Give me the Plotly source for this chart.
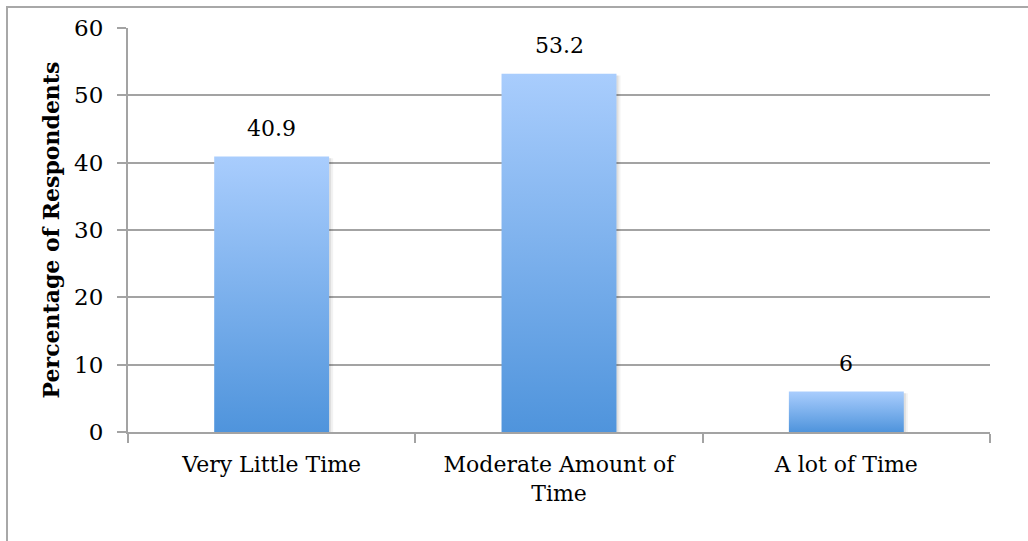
import plotly.graph_objects as go

# Survey results: share of respondents by amount of time
categories = ["Very Little Time", "Moderate Amount of<br>Time", "A lot of Time"]
percentages = [40.9, 53.2, 6]
value_labels = ["40.9", "53.2", "6"]
y_ticks = [0, 10, 20, 30, 40, 50, 60]

GRID = "#a3a3a3"
FONT = "DejaVu Serif"
BAR_HALF = 0.2           # half bar width in category units
BAR_TOP = "#a9cdfd"
BAR_BOTTOM = "#4f94dc"

fig = go.Figure()

# soft drop shadow behind each bar
for i, v in enumerate(percentages):
    for off, alpha in [(0.014, 0.05), (0.007, 0.08)]:
        fig.add_trace(go.Scatter(
            x=[i - BAR_HALF + off, i + BAR_HALF + off, i + BAR_HALF + off, i - BAR_HALF + off, i - BAR_HALF + off],
            y=[0, 0, v - 0.25, v - 0.25, 0],
            mode="lines", fill="toself", line=dict(width=0),
            fillcolor=f"rgba(0,0,0,{alpha})", hoverinfo="skip", showlegend=False,
        ))

# bars with a vertical light-to-dark gradient
for i, v in enumerate(percentages):
    fig.add_trace(go.Scatter(
        x=[i - BAR_HALF, i + BAR_HALF, i + BAR_HALF, i - BAR_HALF, i - BAR_HALF],
        y=[0, 0, v, v, 0],
        mode="lines", fill="toself", line=dict(width=0),
        fillgradient=dict(type="vertical", colorscale=[[0, BAR_BOTTOM], [1, BAR_TOP]]),
        name=categories[i].replace("<br>", " "), showlegend=False,
    ))

# value labels above the bars
for i, (v, lab) in enumerate(zip(percentages, value_labels)):
    fig.add_annotation(x=i, y=v, text=lab, showarrow=False, yanchor="bottom",
                       yshift=14, font=dict(family=FONT, size=22, color="#000"))

# outer chart frame
fig.add_shape(type="rect", xref="paper", yref="paper",
              x0=(7 - 128) / 862, x1=(1060 - 128) / 862,
              y0=(432 - 580) / 404, y1=(432 - 7) / 404,
              line=dict(color="#a8a8a8", width=2), fillcolor="rgba(0,0,0,0)", layer="below")

fig.update_layout(
    width=1028, height=541,
    margin=dict(l=128, r=38, t=28, b=109),
    plot_bgcolor="white", paper_bgcolor="white",
    font=dict(family=FONT, size=22, color="#000"),
    xaxis=dict(
        range=[-0.5, 2.5], tickmode="array", tickvals=[0, 1, 2], ticktext=categories,
        ticks="", showgrid=False, zeroline=False,
        showline=True, linecolor=GRID, linewidth=2,
        ticklabelstandoff=12,
        minor=dict(tickmode="array", tickvals=[-0.5, 0.5, 1.5, 2.5], ticks="outside",
                   ticklen=9, tickwidth=2, tickcolor=GRID, showgrid=False),
        tickfont=dict(family=FONT, size=22),
    ),
    yaxis=dict(
        range=[0, 60], tickmode="array", tickvals=y_ticks,
        showgrid=True, gridcolor=GRID, gridwidth=2, zeroline=False,
        showline=True, linecolor=GRID, linewidth=2,
        ticks="outside", ticklen=9, tickwidth=2, tickcolor=GRID,
        ticklabelstandoff=9,
        tickfont=dict(family=FONT, size=23),
        title=dict(text="<b>Percentage of Respondents</b>", standoff=8,
                   font=dict(family=FONT, size=22)),
    ),
)

fig.write_html("out.html")
